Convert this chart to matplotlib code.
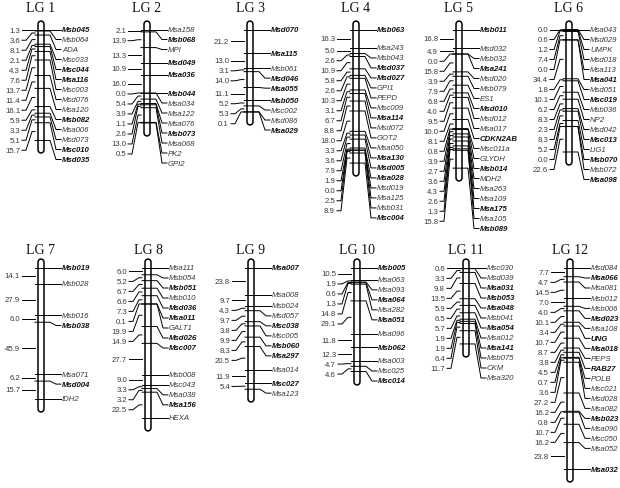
import numpy as np
import matplotlib.pyplot as plt

plt.rcParams['font.family'] = ['Liberation Sans', 'DejaVu Sans']

# marker names (top to bottom) and distances (cM) between neighbouring markers
lg1_markers = ['Msb045', 'Msb064', 'ADA', 'Msc033', 'Msc044', 'Msa116', 'Msc003',
               'Msd076', 'Msa120', 'Msb082', 'Msa006', 'Msd073', 'Msc010', 'Msd035']
lg1_dist = [1.3, 3.6, 8.1, 2.1, 4.3, 7.6, 13.7, 11.4, 16.1, 5.9, 3.3, 5.1, 15.7]

lg2_markers = ['Msa158', 'Msb068', 'MPI', 'Msd049', 'Msa036', 'Msb044', 'Msa034',
               'Msa122', 'Msa076', 'Msb073', 'Msa068', 'PK2', 'GPI2']
lg2_dist = [2.1, 13.9, 13.3, 10.9, 16.0, 0.0, 5.4, 3.9, 1.1, 2.6, 13.0, 0.5]

lg3_markers = ['Msd070', 'Msa115', 'Msb061', 'Msd046', 'Msa055', 'Msb050', 'Msc002',
               'Msd086', 'Msa029']
lg3_dist = [21.2, 13.0, 3.1, 14.0, 11.1, 5.2, 5.3, 0.1]

lg4_markers = ['Msb063', 'Msa243', 'Msb043', 'Msd037', 'Msd027', 'GPI1', 'PEPD',
               'Msc009', 'Msa114', 'Msd072', 'GOT2', 'Msa050', 'Msa130', 'Msd005',
               'Msa028', 'Msd019', 'Msa125', 'Msb031', 'Msc004']
lg4_dist = [16.3, 5.0, 2.6, 10.9, 5.8, 2.6, 10.3, 3.1, 6.7, 8.8, 18.0, 3.3, 3.6,
            7.9, 1.9, 0.0, 2.5, 8.9]

lg5_markers = ['Msb011', 'Msd032', 'Msb032', 'Msa241', 'Msd020', 'Msb079', 'ES1',
               'Msd010', 'Msd012', 'Msa017', 'CDKN2AB', 'Msc011a', 'GLYDH', 'Msb014',
               'MDH2', 'Msa263', 'Msa109', 'Msa175', 'Msa105', 'Msb089']
lg5_dist = [16.8, 4.9, 0.0, 15.8, 3.9, 7.9, 6.8, 4.0, 9.5, 10.0, 8.1, 0.8, 3.9,
            2.7, 3.6, 4.3, 2.6, 1.3, 15.8]

lg6_markers = ['Msa043', 'Msd029', 'UMPK', 'Msd018', 'Msa113', 'Msa041', 'Msd051',
               'Msc019', 'Msb036', 'NP2', 'Msd042', 'Msc013', 'LIG1', 'Msb070',
               'Msb072', 'Msa098']
lg6_dist = [0.0, 0.6, 1.2, 7.4, 0.0, 34.4, 1.8, 10.1, 6.2, 8.3, 2.3, 8.3, 5.2,
            0.0, 22.6]

lg7_markers = ['Msb019', 'Msb028', 'Msb016', 'Msb038', 'Msa071', 'Msd004', 'IDH2']
lg7_dist = [14.1, 27.9, 6.0, 45.9, 6.2, 15.7]

lg8_markers = ['Msa111', 'Msb054', 'Msb051', 'Msb010', 'Msd036', 'Msa011', 'GALT1',
               'Msd026', 'Msc007', 'Msb008', 'Msc043', 'Msa038', 'Msa156', 'HEXA']
lg8_dist = [6.0, 5.2, 6.7, 6.6, 7.3, 0.1, 19.9, 14.9, 27.7, 9.0, 3.3, 3.2, 22.5]

lg9_markers = ['Msa007', 'Msa008', 'Msb024', 'Msd057', 'Msc038', 'Msc005', 'Msb060',
               'Msa297', 'Msa014', 'Msc027', 'Msa123']
lg9_dist = [23.8, 9.7, 4.3, 9.7, 3.8, 9.9, 8.3, 20.5, 11.9, 5.4]

lg10_markers = ['Msb005', 'Msa063', 'Msa093', 'Msa064', 'Msa282', 'Msa051', 'Msa096',
                'Msb062', 'Msa003', 'Msc025', 'Msc014']
lg10_dist = [10.5, 1.9, 0.6, 1.3, 14.8, 29.1, 11.8, 12.3, 4.7, 4.6]

lg11_markers = ['Msc030', 'Msd039', 'Msa031', 'Msb053', 'Msa048', 'Msb041', 'Msa054',
                'Msa012', 'Msa141', 'Msb075', 'CKM', 'Msa320']
lg11_dist = [0.6, 3.3, 9.8, 13.5, 5.9, 6.5, 5.7, 1.9, 1.9, 6.4, 11.7]

lg12_markers = ['Msd084', 'Msa066', 'Msa081', 'Msb012', 'Msb006', 'Msd023', 'Msa108',
                'UNG', 'Msa018', 'PEPS', 'RAB27', 'POLB', 'Msc021', 'Msd028', 'Msa082',
                'Msb023', 'Msa090', 'Msc050', 'Msa052', 'Msa032']
lg12_dist = [7.7, 4.7, 14.5, 7.0, 4.0, 10.1, 3.4, 10.7, 8.7, 3.8, 4.5, 0.7, 3.6,
             27.2, 16.2, 0.8, 10.7, 16.2, 23.8]

bold_markers = {'Msb045', 'Msc044', 'Msa116', 'Msb082', 'Msc010', 'Msd035',
                'Msb068', 'Msd049', 'Msa036', 'Msb044', 'Msb073',
                'Msd070', 'Msa115', 'Msd046', 'Msa055', 'Msb050', 'Msa029',
                'Msb063', 'Msd037', 'Msd027', 'Msa114', 'Msa130', 'Msd005', 'Msa028',
                'Msc004',
                'Msb011', 'Msa241', 'Msd010', 'CDKN2AB', 'Msb014', 'Msa175', 'Msb089',
                'Msa041', 'Msc019', 'Msc013', 'Msb070', 'Msa098',
                'Msb019', 'Msb038', 'Msd004',
                'Msb051', 'Msd036', 'Msa011', 'Msd026', 'Msc007', 'Msa156',
                'Msa007', 'Msc038', 'Msb060', 'Msa297', 'Msc027',
                'Msb005', 'Msa064', 'Msa051', 'Msb062', 'Msc014',
                'Msa031', 'Msb053', 'Msa048', 'Msa054', 'Msa141',
                'Msa066', 'Msd023', 'UNG', 'Msa018', 'RAB27', 'Msb023', 'Msa032'}

groups = [(lg1_markers, lg1_dist), (lg2_markers, lg2_dist), (lg3_markers, lg3_dist),
          (lg4_markers, lg4_dist), (lg5_markers, lg5_dist), (lg6_markers, lg6_dist),
          (lg7_markers, lg7_dist), (lg8_markers, lg8_dist), (lg9_markers, lg9_dist),
          (lg10_markers, lg10_dist), (lg11_markers, lg11_dist), (lg12_markers, lg12_dist)]

# layout (pixels)
W, H = 620, 489
px = 1.13            # pixels per cM
gap = 10 / px        # label spacing in cM
chrom_x = [41, 147, 250, 356, 459, 569, 41, 148, 251, 357, 466, 570]
row_top = [0, 240]
row_h = [240, 249]
first_y = [30.5, 269]
title_y = [9, 250]


def spread(ideal):
    out = []
    for y in ideal:
        if out and y < out[-1] + gap:
            y = out[-1] + gap
        out.append(y)
    return out


fig = plt.figure(figsize=(W / 100, H / 100), dpi=100)
axes = []
for r in range(2):
    ax = fig.add_axes([0, 1 - (row_top[r] + row_h[r]) / H, 1, row_h[r] / H])
    off = first_y[r] - row_top[r]
    ax.set_xlim(0, W)
    ax.set_ylim((row_h[r] - off) / px, -off / px)
    ax.axis('off')
    axes.append(ax)

for i, (markers, dist) in enumerate(groups):
    r = i // 6
    ax = axes[r]
    xc = chrom_x[i]
    pos = np.concatenate([[0], np.cumsum(dist)])

    ax.text(xc, (title_y[r] - first_y[r]) / px, 'LG %d' % (i + 1), ha='center',
            va='center', family='Liberation Serif', fontsize=10, color='#111111')

    # chromosome bar
    ends = [pos[0] - 6 / px, pos[-1] + 10 / px]
    ax.plot([xc, xc], ends, color='black', lw=5.4, solid_capstyle='round', zorder=1)
    ax.plot([xc, xc], ends, color='white', lw=3.2, solid_capstyle='round', zorder=2)

    # markers on the right
    lab = spread(pos)
    for name, y, yl in zip(markers, pos, lab):
        ax.plot([xc - 6, xc + 9, xc + 15, xc + 20], [y, y, yl, yl], color='black',
                lw=0.7, zorder=3)
        bold = name in bold_markers
        ax.text(xc + 21, yl, name, ha='left', va='center', fontsize=5.6,
                style='italic', weight='bold' if bold else 'normal',
                color='#111111' if bold else '#3a3a3a')

    # distances on the left
    mids = (pos[:-1] + pos[1:]) / 2
    dlab = spread(mids)
    for d, y, yl in zip(dist, mids, dlab):
        ax.plot([xc - 19, xc - 15, xc - 9, xc - 6], [yl, yl, y, y], color='black',
                lw=0.7, zorder=3)
        ax.text(xc - 21, yl, '%.1f' % d, ha='right', va='center', fontsize=5.6,
                color='#3a3a3a')

fig.savefig('out.png', dpi=100)
